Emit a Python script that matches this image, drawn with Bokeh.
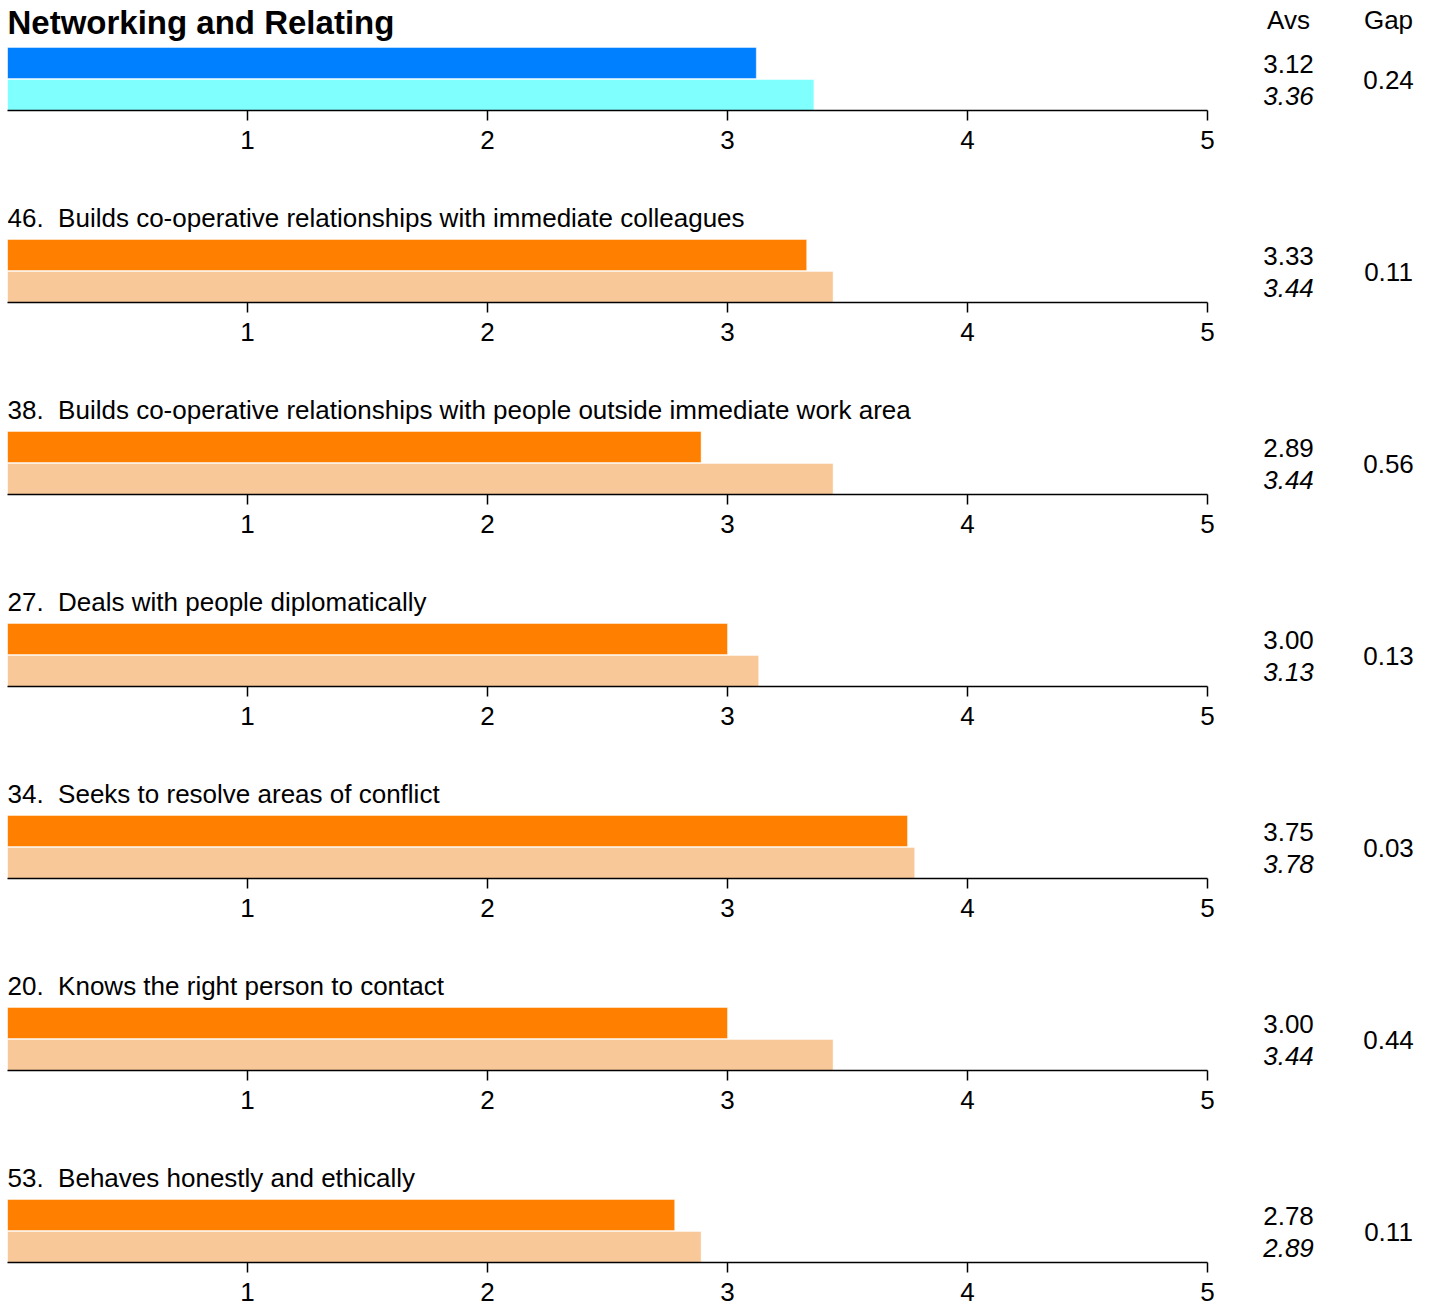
from bokeh.plotting import figure
from bokeh.layouts import column
from bokeh.models import Range1d, FixedTicker
from bokeh.core.properties import value
from bokeh.embed import file_html
from bokeh.resources import INLINE

# ---------------- data ----------------
chart_title = "Networking and Relating"
col_headers = ["Avs", "Gap"]
overall_self = 3.12
overall_other = 3.36
overall_gap = 0.24
item_numbers = ["46.", "38.", "27.", "34.", "20.", "53."]
item_texts = [
    "Builds co-operative relationships with immediate colleagues",
    "Builds co-operative relationships with people outside immediate work area",
    "Deals with people diplomatically",
    "Seeks to resolve areas of conflict",
    "Knows the right person to contact",
    "Behaves honestly and ethically",
]
self_avg = [3.33, 2.89, 3.00, 3.75, 3.00, 2.78]
other_avg = [3.44, 3.44, 3.13, 3.78, 3.44, 2.89]
gap_vals = [0.11, 0.56, 0.13, 0.03, 0.44, 0.11]
x_ticks = [1, 2, 3, 4, 5]

# ---------------- styling ----------------
FONT = value("Liberation Sans")
PX_PER_UNIT = 240.0
LEFT_PAD = 7
TOTAL_W = 1431
FRAME_W = TOTAL_W - LEFT_PAD
X_END = FRAME_W / PX_PER_UNIT
AVS_X = (1288 - LEFT_PAD) / PX_PER_UNIT
GAP_X = (1388 - LEFT_PAD) / PX_PER_UNIT
FS = "26px"


def make_panel(sv, ov, gv, label, dark, light, first=False, last=False):
    h = 154 if last else 192
    bottom = h - 110
    p = figure(width=TOTAL_W, height=h, output_backend="svg", toolbar_location=None,
               x_range=Range1d(0, X_END), y_range=Range1d(0, 110),
               y_axis_location=None, min_border_left=LEFT_PAD, min_border_right=0,
               min_border_top=0, min_border_bottom=bottom)
    p.outline_line_color = None
    p.xgrid.visible = False
    p.ygrid.visible = False
    p.background_fill_color = "white"
    p.border_fill_color = "white"

    ax = p.xaxis[0]
    ax.ticker = FixedTicker(ticks=x_ticks)
    ax.bounds = (0, 5)
    ax.axis_line_color = "black"
    ax.axis_line_width = 1.5
    ax.major_tick_line_width = 1.5
    ax.major_tick_out = 10
    ax.major_tick_in = 0
    ax.minor_tick_line_color = None
    ax.major_label_standoff = 10
    ax.major_label_text_font = "Liberation Sans"
    ax.major_label_text_font_size = FS
    ax.major_label_text_color = "black"

    p.hbar(y=[47.5], height=31, left=0, right=[sv], fill_color=dark,
           line_color="white", line_alpha=0.45, line_width=1)
    p.hbar(y=[15.5], height=31, left=0, right=[ov], fill_color=light,
           line_color="white", line_alpha=0.45, line_width=1)

    p.text(x=[AVS_X], y=[47], text=[f"{sv:.2f}"], text_font=FONT, text_font_size=FS,
           text_align="center", text_baseline="middle", text_color="black")
    p.text(x=[AVS_X], y=[15], text=[f"{ov:.2f}"], text_font=FONT, text_font_size=FS,
           text_font_style="italic", text_align="center", text_baseline="middle",
           text_color="black")
    p.text(x=[GAP_X], y=[31], text=[f"{gv:.2f}"], text_font=FONT, text_font_size=FS,
           text_align="center", text_baseline="middle", text_color="black")

    if first:
        p.text(x=[0], y=[88], text=[label], text_font=FONT, text_font_size="33px",
               text_font_style="bold", text_align="left", text_baseline="middle",
               text_color="black")
        p.text(x=[AVS_X, GAP_X], y=[91, 91], text=col_headers, text_font=FONT,
               text_font_size=FS, text_align="center", text_baseline="middle",
               text_color="black")
    else:
        p.text(x=[0], y=[85], text=[label], text_font=FONT, text_font_size=FS,
               text_align="left", text_baseline="middle", text_color="black")
    return p


panels = [make_panel(overall_self, overall_other, overall_gap, chart_title,
                     "#0080FF", "#80FFFF", first=True)]
n = len(item_texts)
for i in range(n):
    label = item_numbers[i] + "\u00a0 " + item_texts[i]
    panels.append(make_panel(self_avg[i], other_avg[i], gap_vals[i], label,
                             "#FF8000", "#F9C898", last=(i == n - 1)))

layout = column(*panels, spacing=0)
open("out.html", "w").write(file_html(layout, INLINE))
